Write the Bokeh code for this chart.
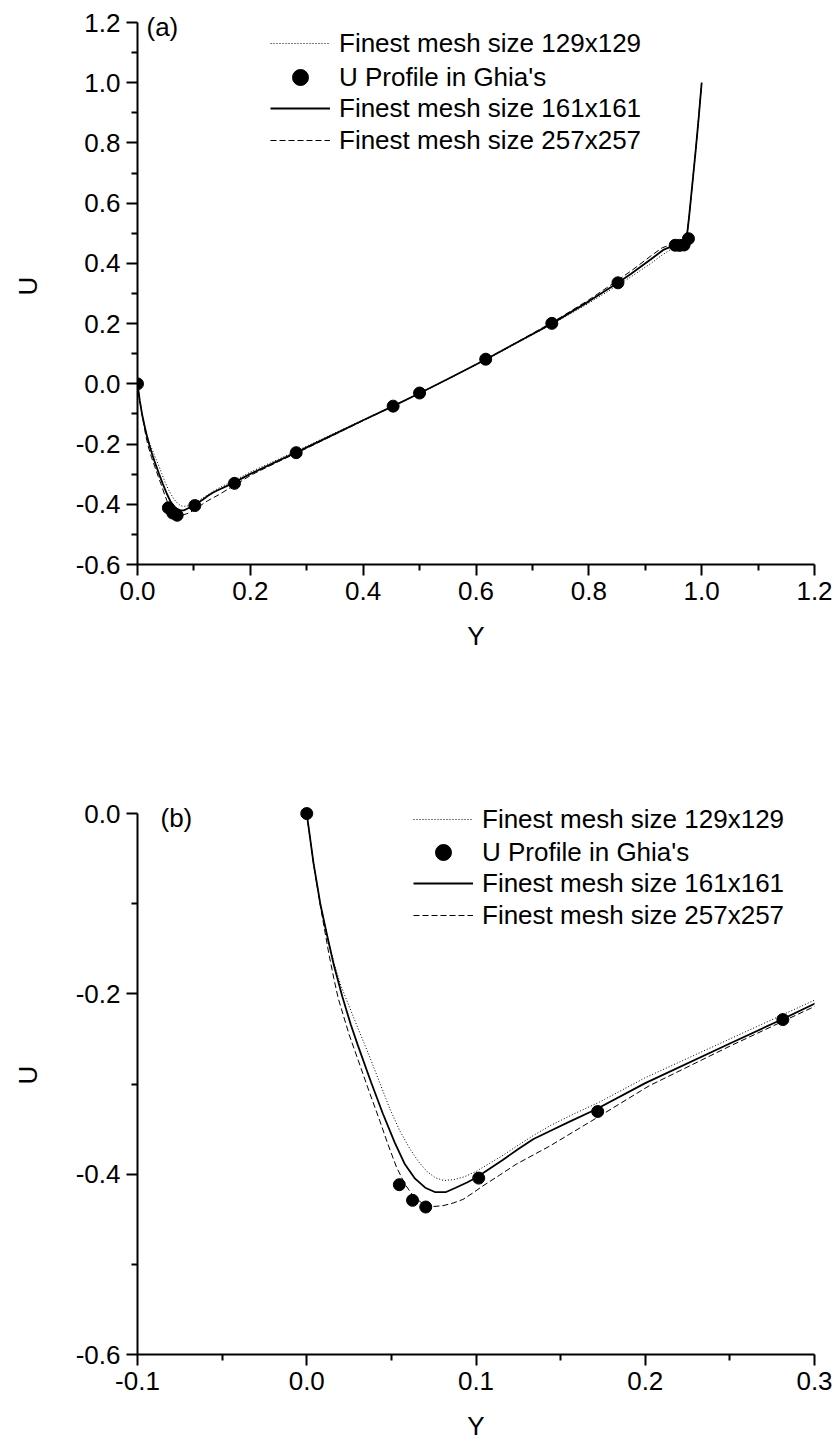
from bokeh.plotting import figure
from bokeh.models import (FixedTicker, PrintfTickFormatter, Legend, LegendItem,
                          Label, Range1d)
from bokeh.layouts import column
from bokeh.embed import file_html
from bokeh.resources import INLINE

FONT = "Liberation Sans"

# ---------------- data ----------------
y_129 = [0, 0.004, 0.008, 0.012, 0.016, 0.02, 0.0236, 0.03, 0.037, 0.043, 0.049, 0.055, 0.061, 0.066,
         0.071, 0.076, 0.081, 0.087, 0.093, 0.1, 0.108, 0.116, 0.124, 0.134, 0.144, 0.158,
         0.173, 0.2, 0.25, 0.3, 0.35, 0.4, 0.45, 0.5, 0.55, 0.6, 0.65, 0.7, 0.75, 0.8,
         0.85, 0.88, 0.91, 0.93, 0.95, 0.96, 0.967, 0.9746, 0.9776, 0.9835, 0.9894, 0.995, 1.0]
u_129 = [0, -0.055, -0.1, -0.135, -0.165, -0.19, -0.207, -0.237, -0.269, -0.298, -0.327, -0.352, -0.372, -0.386,
         -0.397, -0.404, -0.407, -0.406, -0.403, -0.397, -0.388, -0.379, -0.369, -0.357, -0.346, -0.333,
         -0.320, -0.293, -0.250, -0.207, -0.163, -0.119, -0.076, -0.031, 0.015, 0.063, 0.112, 0.163, 0.214, 0.268,
         0.326, 0.362, 0.400, 0.428, 0.452, 0.462, 0.472, 0.500, 0.550, 0.660, 0.775, 0.890, 1.0]

y_161 = [0, 0.004, 0.008, 0.012, 0.016, 0.021, 0.026, 0.03, 0.038, 0.045, 0.052, 0.058, 0.064, 0.07, 0.076,
         0.082, 0.088, 0.095, 0.1, 0.108, 0.116, 0.125, 0.134, 0.145, 0.155, 0.171, 0.2, 0.25,
         0.28, 0.3, 0.35, 0.4, 0.4531, 0.5, 0.55, 0.6172, 0.68, 0.7344, 0.8, 0.8516, 0.875, 0.91,
         0.933, 0.95, 0.96, 0.967, 0.9746, 0.9776, 0.9835, 0.9894, 0.995, 1.0]
u_161 = [0, -0.055, -0.1, -0.135, -0.168, -0.203, -0.234, -0.256, -0.298, -0.333, -0.365, -0.389, -0.405, -0.415, -0.420,
         -0.420, -0.415, -0.409, -0.404, -0.394, -0.384, -0.372, -0.361, -0.351, -0.342, -0.328, -0.299, -0.255,
         -0.229, -0.211, -0.166, -0.121, -0.074, -0.031, 0.016, 0.081, 0.145, 0.200, 0.274, 0.336, 0.366, 0.414,
         0.446, 0.459, 0.463, 0.470, 0.504, 0.553, 0.664, 0.775, 0.890, 1.0]

y_257 = [0, 0.004, 0.008, 0.013, 0.016, 0.0186, 0.025, 0.0314, 0.037, 0.0432, 0.048, 0.053, 0.058, 0.0628,
         0.068, 0.0736, 0.0805, 0.0865, 0.0923, 0.098, 0.1041, 0.114, 0.1237, 0.1434, 0.1709, 0.2023,
         0.25, 0.3, 0.35, 0.4, 0.45, 0.5, 0.55, 0.6, 0.65, 0.7, 0.75, 0.8, 0.85, 0.88, 0.91, 0.93,
         0.95, 0.96, 0.967, 0.9746, 0.9776, 0.9835, 0.9894, 0.995, 1.0]
u_257 = [0, -0.056, -0.102, -0.155, -0.183, -0.205, -0.245, -0.279, -0.309, -0.341, -0.367, -0.392, -0.411, -0.424,
         -0.432, -0.436, -0.435, -0.432, -0.428, -0.421, -0.413, -0.401, -0.389, -0.369, -0.338, -0.302,
         -0.258, -0.214, -0.168, -0.122, -0.077, -0.031, 0.016, 0.064, 0.115, 0.167, 0.221, 0.279, 0.342,
         0.382, 0.425, 0.452, 0.465, 0.468, 0.475, 0.505, 0.553, 0.664, 0.775, 0.890, 1.0]

y_ghia = [0.0, 0.0547, 0.0625, 0.0703, 0.1016, 0.1719, 0.2813, 0.4531, 0.5000, 0.6172,
          0.7344, 0.8516, 0.9531, 0.9609, 0.9688, 0.9766]
u_ghia = [0.0, -0.41165, -0.42901, -0.43643, -0.40435, -0.33050, -0.22855, -0.07404, -0.03039,
          0.08183, 0.20087, 0.33556, 0.46036, 0.45992, 0.46120, 0.48223]

labels = ["Finest mesh size 129x129", "U Profile in Ghia's",
          "Finest mesh size 161x161", "Finest mesh size 257x257"]

xa_ticks = [0.0, 0.2, 0.4, 0.6, 0.8, 1.0, 1.2]
xa_minor = [0.1, 0.3, 0.5, 0.7, 0.9, 1.1]
ya_ticks = [-0.6, -0.4, -0.2, 0.0, 0.2, 0.4, 0.6, 0.8, 1.0, 1.2]
ya_minor = [-0.5, -0.3, -0.1, 0.1, 0.3, 0.5, 0.7, 0.9, 1.1]

xb_ticks = [-0.1, 0.0, 0.1, 0.2, 0.3]
xb_minor = [-0.05, 0.05, 0.15, 0.25]
yb_ticks = [-0.6, -0.4, -0.2, 0.0]
yb_minor = [-0.5, -0.3, -0.1]

FS = "26px"


def style_axis(ax, ticks, minor, standoff_label):
    ax.ticker = FixedTicker(ticks=ticks, minor_ticks=minor)
    ax.formatter = PrintfTickFormatter(format="%.1f")
    ax.axis_line_width = 2
    ax.axis_line_color = "black"
    ax.major_tick_line_width = 2
    ax.minor_tick_line_width = 2
    ax.major_tick_line_color = "black"
    ax.minor_tick_line_color = "black"
    ax.major_tick_out = 11
    ax.major_tick_in = 0
    ax.minor_tick_out = 6
    ax.minor_tick_in = 0
    ax.major_label_text_font = FONT
    ax.major_label_text_font_size = FS
    ax.major_label_text_color = "black"
    ax.major_label_standoff = 6
    ax.axis_label_text_font = FONT
    ax.axis_label_text_font_size = FS
    ax.axis_label_text_font_style = "normal"
    ax.axis_label_text_color = "black"
    ax.axis_label_standoff = standoff_label


def make_legend(items, loc, gh):
    return Legend(items=items, location=loc, border_line_color=None, background_fill_alpha=0,
                  padding=0, margin=0, spacing=0, glyph_width=60, glyph_height=gh,
                  label_height=gh, label_standoff=9, label_text_font=FONT,
                  label_text_font_size=FS, label_text_color="black")


def make_panel(height, xr, yr, ybounds, xt, xm, yt, ym, borders, tag, tag_xy, leg_x, leg_ys):
    bl, br, bt, bb = borders
    p = figure(width=834, height=height, x_range=Range1d(*xr), y_range=Range1d(*yr),
               output_backend="svg", toolbar_location=None,
               min_border_left=bl, min_border_right=br, min_border_top=bt, min_border_bottom=bb,
               x_axis_label="Y", y_axis_label="U")
    p.xgrid.visible = False
    p.ygrid.visible = False
    p.outline_line_color = None
    style_axis(p.xaxis[0], xt, xm, 18)
    style_axis(p.yaxis[0], yt, ym, 30)
    p.yaxis[0].bounds = ybounds

    r129 = p.line(y_129, u_129, line_color="black", line_width=1, line_dash="1 2")
    r161 = p.line(y_161, u_161, line_color="black", line_width=1.8)
    r257 = p.line(y_257, u_257, line_color="black", line_width=1, line_dash="6 3")
    rg = p.scatter(y_ghia, u_ghia, size=12, marker="circle", fill_color="black", line_color="black")

    # legend split in three so that the marker row can use a taller glyph box
    p.add_layout(make_legend([LegendItem(label=labels[0], renderers=[r129])],
                             (leg_x, leg_ys[0]), 32))
    p.add_layout(make_legend([LegendItem(label=labels[1], renderers=[rg])],
                             (leg_x, leg_ys[1]), 40))
    p.add_layout(make_legend([LegendItem(label=labels[2], renderers=[r161]),
                              LegendItem(label=labels[3], renderers=[r257])],
                             (leg_x, leg_ys[2]), 32))
    p.add_layout(Label(x=tag_xy[0], y=tag_xy[1], x_units="screen", y_units="screen", text=tag,
                       text_baseline="middle", text_font=FONT, text_font_size=FS,
                       text_color="black"))
    return p


# panel (a): frame extended 15 px above 1.2, axis drawn only to 1.2
pa = make_panel(720, (0.0, 1.2), (-0.6, 1.25), (-0.6, 1.2), xa_ticks, xa_minor, ya_ticks, ya_minor,
                (136, 20, 7, 156), "(a)", (9, 538), 133, (505, 467, 408))
# panel (b): frame extended 18 px above 0.0, axis drawn only to 0.0
pb = make_panel(723, (-0.1, 0.3), (-0.6, 0.02), (-0.6, 0.0), xb_ticks, xb_minor, yb_ticks, yb_minor,
                (137, 18, 75, 87), "(b)", (23, 537), 276, (519, 482, 423))

layout = column(pa, pb, spacing=0)
open("out.html", "w").write(file_html(layout, INLINE))
